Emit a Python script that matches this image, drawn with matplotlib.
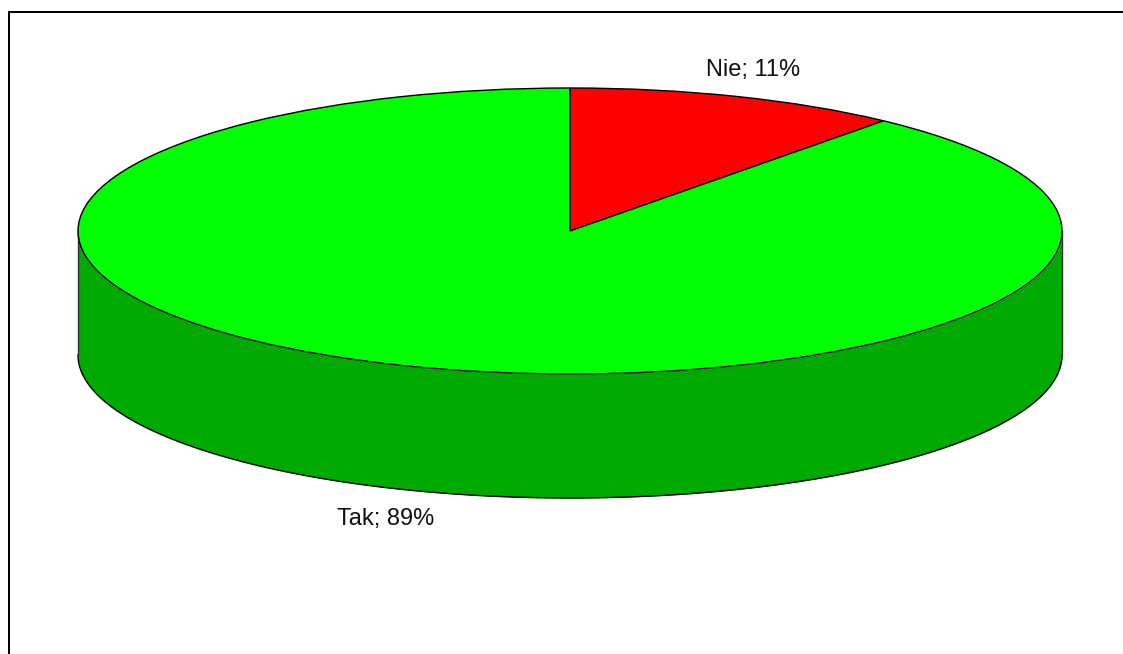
import matplotlib
matplotlib.use('Agg')
import matplotlib.pyplot as plt
import numpy as np

plt.rcParams['font.family'] = ['Liberation Sans', 'DejaVu Sans']

# Data
categories = ['Nie', 'Tak']
values = [11, 89]
top_colors = ['#ff0000', '#00ff00']
side_color = '#00aa00'

W, H = 1123, 654
cx, cy = 570, 231    # pie centre in pixels
rx, ry = 492, 143    # ellipse radii in pixels
depth = 124 / ry     # height of the side wall

fig = plt.figure(figsize=(W / 100, H / 100), dpi=100, facecolor='white')
ax = fig.add_axes([0, 0, 1, 1])

# Side wall, only the front half shows
t = np.linspace(np.pi, 2 * np.pi, 300)
ax.fill_between(np.cos(t), np.sin(t), np.sin(t) - depth, color=side_color, lw=0, zorder=1)
ax.plot(np.cos(t), np.sin(t) - depth, color='black', lw=1, zorder=2)
ax.plot([-1, -1], [0, -depth], color='#333333', lw=1, zorder=2)
ax.plot([1, 1], [0, -depth], color='#333333', lw=1, zorder=2)

# Top of the pie, squashed by the axis limits below
ax.pie(values, colors=top_colors, startangle=90, counterclock=False, radius=1,
       wedgeprops={'edgecolor': 'black', 'linewidth': 1, 'zorder': 3})

ax.set_aspect('auto')
ax.set_xlim(-cx / rx, (W - cx) / rx)
ax.set_ylim((cy - H) / ry, cy / ry)
ax.axis('off')

# Labels
label_pos = [(753, 70), (386, 519)]
for name, val, (px, py) in zip(categories, values, label_pos):
    fig.text(px / W, 1 - py / H, f'{name}; {val}%', fontsize=17, color='#111111',
             ha='center', va='center')

# Frame, only top and left fall inside the picture
fig.add_artist(plt.Line2D([9 / W, 9 / W], [0, 1 - 12 / H], color='black', lw=1.44, solid_capstyle='projecting'))
fig.add_artist(plt.Line2D([9 / W, 1], [1 - 12 / H, 1 - 12 / H], color='black', lw=1.44, solid_capstyle='projecting'))

fig.savefig('out.png', dpi=100)
